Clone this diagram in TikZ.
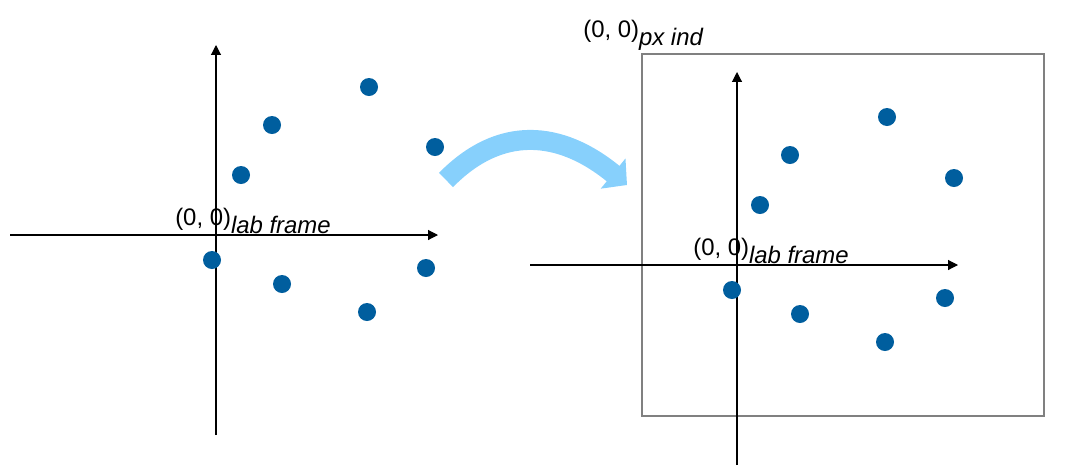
\documentclass[tikz,border=0pt]{standalone}
\usepackage{fontspec}
\setmainfont{Liberation Sans}
\usetikzlibrary{arrows.meta}
\definecolor{dotblue}{RGB}{0,94,158}
\definecolor{skyblue}{RGB}{135,208,252}
\begin{document}
\begin{tikzpicture}[x=0.025cm,y=-0.025cm,
  dot/.style={circle,fill=dotblue,inner sep=0pt,minimum size=0.45cm},
  axis/.style={-{Triangle[length=7pt,width=7pt]},line width=0.8pt},
  lbl/.style={font=\fontsize{17}{20}\selectfont,inner sep=0pt}]
\useasboundingbox (0,0) rectangle (1071,468);
% left frame
\coordinate (lb) at (216,435);
\coordinate (lt) at (216,45);
\coordinate (ll) at (10,235);
\coordinate (lr) at (438,235);
\draw[axis] (lb) -- (lt);
\draw[axis] (ll) -- (lr);
\node[dot] (l1) at (369,87) {};
\node[dot] (l2) at (272,125) {};
\node[dot] (l3) at (435,147) {};
\node[dot] (l4) at (241,175) {};
\node[dot] (l5) at (212,260) {};
\node[dot] (l6) at (282,284) {};
\node[dot] (l7) at (426,268) {};
\node[dot] (l8) at (367,312) {};
\node[lbl,anchor=base west] (lo) at (175,225) {(0, 0)$_{\textit{lab frame}}$};
% right frame
\node[draw=gray,line width=1.5pt,minimum width=402*0.025cm,minimum height=362*0.025cm,anchor=north west] (box) at (641,53) {};
\coordinate (rb) at (737,465);
\coordinate (rt) at (737,72);
\coordinate (rl) at (530,265);
\coordinate (rr) at (958,265);
\draw[axis] (rb) -- (rt);
\draw[axis] (rl) -- (rr);
\node[dot] (r1) at (887,117) {};
\node[dot] (r2) at (790,155) {};
\node[dot] (r3) at (954,178) {};
\node[dot] (r4) at (760,205) {};
\node[dot] (r5) at (732,290) {};
\node[dot] (r6) at (800,314) {};
\node[dot] (r7) at (945,298) {};
\node[dot] (r8) at (885,342) {};
\node[lbl,anchor=base west] (ro) at (693,255) {(0, 0)$_{\textit{lab frame}}$};
\node[lbl,anchor=base west] (po) at (583,37) {(0, 0)$_{\textit{px ind}}$};
% transform arrow
\coordinate (as) at (446,180);
\coordinate (ae) at (627,185);
\draw[skyblue,line width=0.5cm,-{Triangle[length=0.45cm,width=0.95cm]}]
  (as) .. controls (500,125) and (560,130) .. (ae);
\end{tikzpicture}
\end{document}
